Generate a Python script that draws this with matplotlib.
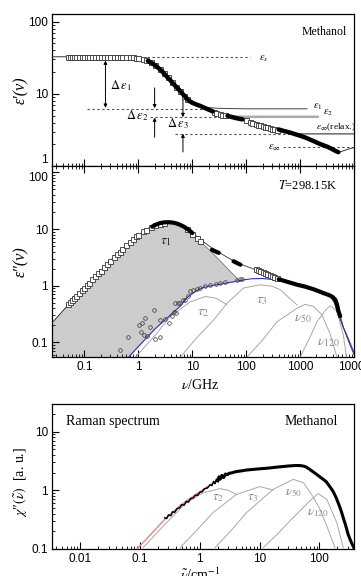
import numpy as np
import matplotlib
matplotlib.use("Agg")
import matplotlib.pyplot as plt
from matplotlib.ticker import FixedLocator, FuncFormatter, LogLocator, NullFormatter

plt.rcParams['font.family'] = ['Liberation Sans', 'DejaVu Sans']
plt.rcParams['mathtext.fontset'] = 'stix'

# ---------------- top panel: eps' ----------------
ep_sq_f = [0.05, 0.055, 0.06, 0.065, 0.07, 0.08, 0.09, 0.1, 0.11, 0.12, 0.14, 0.16, 0.18, 0.2,
           0.23, 0.26, 0.3, 0.35, 0.4, 0.45, 0.5, 0.6, 0.7, 0.8, 0.9, 1.0, 1.2, 1.4, 1.7, 2.0,
           2.5, 3.0, 3.5, 4.2, 5.0, 6.0, 7.0, 8.0,
           25, 28, 32, 36, 40, 100, 115, 130,
           150, 165, 180, 200, 220, 245, 270, 300, 330, 370]
ep_sq_v = [32.7] * 21 + [32.5, 32.3, 32.1, 31.8, 31.4, 30.5, 29.3, 27.5, 25.3,
           22.0, 19.4, 17.0, 14.8, 12.5, 10.8, 9.4, 8.4,
           5.6, 5.45, 5.3, 5.15, 5.05, 4.3, 4.1, 3.95,
           3.85, 3.75, 3.68, 3.6, 3.5, 3.42, 3.35, 3.27, 3.2, 3.12]

ep_blk1_f = [1.5, 1.8, 2.1, 2.5, 2.9, 3.3, 3.8, 4.3, 5.0, 5.8, 6.6, 7.5, 8.5, 10, 12, 14, 16, 18, 21, 24]
ep_blk1_v = [28.6, 26.5, 24.5, 22.0, 19.7, 17.6, 15.8, 14.2, 12.5, 11.2, 10.0, 9.0, 8.1, 7.5, 7.1, 6.8,
             6.5, 6.25, 5.95, 5.7]
ep_blk2_f = [45, 55, 65, 75, 85]
ep_blk2_v = [4.95, 4.75, 4.6, 4.5, 4.42]
ep_blk3_f = [400, 500, 600, 700, 850, 1000, 1200, 1500, 1800, 2200, 2700, 3200, 3800, 4400, 4800, 5100]
ep_blk3_v = [3.2, 3.05, 2.95, 2.85, 2.72, 2.62, 2.5, 2.33, 2.2, 2.05, 1.93, 1.84, 1.73, 1.63, 1.58, 1.55]

ep_fit_f = [0.025, 0.3, 0.6, 1, 1.5, 2, 3, 4.5, 6.5, 9, 14, 25, 50, 100, 200, 400, 800, 1500, 2500,
            3500, 4500, 5200, 6000, 8000, 10000]
ep_fit_v = [32.7, 32.7, 32.5, 31.5, 29, 25.5, 19.5, 14.2, 10.6, 8.3, 6.8, 5.65, 4.85, 4.35, 3.75, 3.2,
            2.75, 2.3, 1.97, 1.78, 1.63, 1.55, 1.6, 1.72, 1.8]

eps_s, eps_1, eps_2, eps_inf_relax, eps_inf = 32.7, 6.2, 4.8, 2.78, 1.84

tau1_ep_f = [12, 16, 22, 30, 50, 100, 300, 1340]
tau1_ep_v = [7.0, 6.6, 6.4, 6.3, 6.25, 6.2, 6.2, 6.2]
tau2_ep_f = [40, 60, 100, 2100]
tau2_ep_v = [5.0, 4.85, 4.8, 4.8]
relax_ep_f = [700, 1000, 10000]
relax_ep_v = [2.85, 2.78, 2.78]

# ---------------- middle panel: eps'' ----------------
epp_sq_f = [0.05, 0.055, 0.06, 0.065, 0.07, 0.08, 0.09, 0.1, 0.11, 0.12, 0.14, 0.16, 0.18, 0.2,
            0.23, 0.26, 0.3, 0.35, 0.4, 0.45, 0.5, 0.6, 0.7, 0.8, 0.9, 1.0, 1.2, 1.4, 1.7, 2.0,
            2.5, 3.0, 8, 10, 12, 14,
            150, 165, 180, 200, 220, 245, 270, 300, 330, 370]
epp_sq_v = [0.48, 0.52, 0.57, 0.61, 0.66, 0.75, 0.84, 0.93, 1.02, 1.11, 1.29, 1.47, 1.65, 1.83,
            2.1, 2.37, 2.72, 3.15, 3.6, 4.0, 4.45, 5.25, 6.0, 6.7, 7.4, 8.0, 9.1, 9.8, 10.7, 11.6,
            12.5, 13.0, 9.9, 8.2, 6.9, 6.1,
            1.95, 1.88, 1.8, 1.72, 1.65, 1.58, 1.53, 1.48, 1.42, 1.37]

epp_blk1_f = [1.8, 2.1, 2.5, 3.0, 3.5, 4.0, 4.5, 5.0, 5.5, 6.0, 7.0, 8.0, 9.0, 10.0]
epp_blk1_v = [11.0, 11.9, 12.7, 13.1, 13.2, 13.1, 12.9, 12.6, 12.2, 11.8, 11.0, 10.1, 9.3, 8.5]
epp_blk2_f = [23, 25, 28, 31]
epp_blk2_v = [4.3, 4.15, 3.95, 3.8]
epp_blk3_f = [58, 63, 68, 73, 78]
epp_blk3_v = [2.7, 2.6, 2.5, 2.42, 2.35]
epp_blk4_f = [400, 450, 500, 600, 700, 850, 1000, 1200, 1500, 1800, 2200, 2700, 3200, 3600, 4000,
              4450, 4800, 5100, 5500]
epp_blk4_v = [1.3, 1.26, 1.22, 1.16, 1.11, 1.05, 1.01, 0.97, 0.91, 0.86, 0.8, 0.74, 0.7, 0.67, 0.63,
              0.57, 0.47, 0.36, 0.29]

circ_f = [0.46, 0.63, 1.01, 1.17, 1.31, 1.12, 1.25, 1.45, 1.67, 1.98, 2.06, 2.55, 2.55, 3.16, 3.64,
          4.2, 4.5, 5.0, 4.8, 5.4, 6.0, 6.6, 7.4, 8.3, 9.2, 10.5, 12.2, 14, 17, 21.5, 27, 33, 40,
          67, 75, 83]
circ_v = [0.074, 0.126, 0.2, 0.22, 0.27, 0.155, 0.135, 0.13, 0.19, 0.376, 0.114, 0.126, 0.25, 0.257,
          0.22, 0.29, 0.35, 0.33, 0.49, 0.5, 0.5, 0.55, 0.57, 0.65, 0.8, 0.85, 0.88, 0.92, 0.97,
          1.02, 1.06, 1.1, 1.14, 1.27, 1.3, 1.32]

epp_fit_f = [0.025, 0.05, 0.1, 0.2, 0.4, 0.8, 1.6, 2.5, 3.5, 5, 7, 10, 14, 20, 30, 45, 65, 100, 160,
             250, 400, 650, 1000, 1600, 2500, 3500, 4200, 4800, 5500, 6500, 8000, 10000]
epp_fit_v = [0.22, 0.46, 0.88, 1.8, 3.7, 6.6, 10.6, 12.6, 13.3, 12.6, 10.8, 8.6, 6.6, 5.1, 3.95,
             3.15, 2.6, 2.2, 1.87, 1.6, 1.32, 1.15, 1.02, 0.88, 0.75, 0.67, 0.62, 0.5, 0.3, 0.17,
             0.1, 0.06]

tau1_f = [0.025, 0.05, 0.1, 0.2, 0.4, 0.8, 1.6, 2.5, 3.5, 5, 7, 10, 14, 20, 30, 45, 65, 90]
tau1_v = [0.22, 0.45, 0.87, 1.75, 3.6, 6.4, 10.3, 12.3, 13.1, 12.3, 10.4, 8.0, 6.0, 4.4, 3.0, 2.0,
          1.4, 1.0]

blue_f = [0.66, 1, 2, 4, 6, 8, 12, 16, 25, 40, 60, 90, 130, 200, 280, 400, 570, 800, 1100, 1500,
          2200, 3000, 3600, 4300, 5100, 6200, 7300, 8500, 10400]
blue_v = [0.055, 0.085, 0.17, 0.31, 0.44, 0.62, 0.82, 0.93, 1.02, 1.1, 1.18, 1.27, 1.33, 1.34, 1.3,
          1.22, 1.15, 1.05, 0.97, 0.9, 0.8, 0.7, 0.65, 0.5, 0.31, 0.19, 0.135, 0.095, 0.06]

c_tau2_f = [0.88, 2.0, 3.9, 9.2, 17.4, 27.8, 44]
c_tau2_v = [0.055, 0.13, 0.286, 0.52, 0.646, 0.60, 0.46]
c_tau3_f = [6, 12, 25, 44, 89, 181, 300, 427, 870]
c_tau3_v = [0.055, 0.12, 0.25, 0.49, 0.91, 1.04, 0.98, 0.85, 0.46]
c_nu50_f = [103, 200, 370, 870, 1230, 1760, 2500, 3500, 4800]
c_nu50_v = [0.055, 0.11, 0.23, 0.40, 0.47, 0.43, 0.31, 0.15, 0.055]
c_nu120_f = [1000, 1500, 2040, 3150, 3700, 4800, 6300, 7200]
c_nu120_v = [0.055, 0.12, 0.23, 0.40, 0.44, 0.35, 0.136, 0.055]

# ---------------- bottom panel: Raman ----------------
ram_lo_f = [0.26, 0.28, 0.3, 0.33, 0.35, 0.38, 0.42, 0.46, 0.5, 0.55, 0.6, 0.65, 0.7, 0.78, 0.85,
            0.92, 1.0, 1.1, 1.2, 1.35, 1.5, 1.6, 1.7, 1.8, 1.9, 2.0]
ram_lo_v = [0.34, 0.33, 0.38, 0.37, 0.43, 0.42, 0.49, 0.5, 0.57, 0.56, 0.65, 0.63, 0.72, 0.74, 0.83,
            0.82, 0.92, 0.95, 1.06, 1.1, 1.25, 1.2, 1.42, 1.3, 1.55, 1.45]
ram_f = [2.0, 2.1, 2.2, 2.35, 2.5, 2.7, 2.9, 3.1, 3.5, 4, 5, 6, 8, 10, 13, 16, 20, 25, 30, 35, 40,
         45, 50, 55, 60, 70, 85, 100, 115, 130, 150, 170, 190, 210, 230, 250, 275, 300, 330, 360, 385]
ram_v = [1.45, 1.7, 1.55, 1.8, 1.65, 1.9, 1.85, 1.95, 2.0, 2.08, 2.15, 2.22, 2.28, 2.33, 2.38, 2.43,
         2.5, 2.55, 2.6, 2.63, 2.65, 2.65, 2.63, 2.58, 2.5, 2.25, 1.95, 1.72, 1.55, 1.4, 1.15, 0.95,
         0.75, 0.58, 0.45, 0.34, 0.25, 0.18, 0.14, 0.115, 0.1]

red_f = [0.09, 0.15, 0.26, 0.5, 1.0, 2.0]
red_v = [0.1, 0.175, 0.32, 0.58, 0.95, 1.5]

r_tau2_f = [0.113, 0.245, 0.6, 1.14, 2.18, 3.0, 4.1]
r_tau2_v = [0.105, 0.245, 0.62, 0.91, 1.07, 1.0, 0.85]
r_tau3_f = [0.47, 0.9, 1.68, 4.1, 10.1, 16.9]
r_tau3_v = [0.105, 0.21, 0.42, 0.85, 1.16, 1.01]
r_nu50_f = [1.8, 3.4, 6.1, 16.9, 36.5, 54, 74, 100, 133, 182]
r_nu50_v = [0.105, 0.21, 0.42, 1.04, 1.54, 1.35, 0.85, 0.5, 0.245, 0.105]
r_nu120_f = [11.5, 20, 32, 69, 95, 133, 195, 250]
r_nu120_v = [0.105, 0.18, 0.3, 0.66, 0.88, 0.7, 0.28, 0.105]

gray_txt = '#8a8a8a'
comp_col = '#a8a8a8'
serif = ['Liberation Serif', 'DejaVu Serif']


def fmt(v, pos):
    return '%g' % v


def style_axes(ax, xt, yt):
    ax.set_xscale('log')
    ax.set_yscale('log')
    ax.xaxis.set_major_locator(FixedLocator(xt))
    ax.yaxis.set_major_locator(FixedLocator(yt))
    ax.xaxis.set_major_formatter(FuncFormatter(fmt))
    ax.yaxis.set_major_formatter(FuncFormatter(fmt))
    ax.xaxis.set_minor_locator(LogLocator(base=10, subs=np.arange(2, 10), numticks=20))
    ax.yaxis.set_minor_locator(LogLocator(base=10, subs=np.arange(2, 10), numticks=20))
    ax.xaxis.set_minor_formatter(NullFormatter())
    ax.yaxis.set_minor_formatter(NullFormatter())
    ax.tick_params(which='both', direction='in', labelsize=8.5, right=False, top=False, pad=3)
    ax.tick_params(which='major', length=5, width=0.8)
    ax.tick_params(which='minor', length=2.5, width=0.6)
    for s in ax.spines.values():
        s.set_linewidth(0.9)


fig = plt.figure(figsize=(3.61, 5.76), dpi=100)
ax1 = fig.add_axes([0.144, 0.712, 0.837, 0.264])
ax2 = fig.add_axes([0.144, 0.380, 0.837, 0.332])
ax3 = fig.add_axes([0.144, 0.047, 0.837, 0.252])

xt_ghz = [0.1, 1, 10, 100, 1000, 10000]

# ---- top ----
style_axes(ax1, xt_ghz, [1, 10, 100])
ax1.set_xlim(0.025, 10000)
ax1.set_ylim(1, 129)
ax1.tick_params(labelbottom=False)

dash = dict(ls=(0, (2.2, 2.2)), lw=0.8, color='#555555')
ax1.plot([1.47, 118], [eps_s, eps_s], **dash)
ax1.plot([0.11, 16], [eps_1, eps_1], **dash)
ax1.plot([1.67, 170], [eps_2, eps_2], **dash)
ax1.plot([4.8, 1000], [eps_inf_relax, eps_inf_relax], **dash)
ax1.plot([485, 10000], [eps_inf, eps_inf], **dash)
ax1.plot(tau2_ep_f, tau2_ep_v, color='#aaaaaa', lw=1.8, zorder=2)
ax1.plot(tau1_ep_f, tau1_ep_v, color='#444444', lw=0.7, zorder=2)
ax1.plot(relax_ep_f, relax_ep_v, color='#333333', lw=0.8, zorder=2)
ax1.plot(ep_fit_f, ep_fit_v, color='#333333', lw=0.7, zorder=3)
ax1.plot(ep_sq_f, ep_sq_v, ls='none', marker='s', ms=3.6, mfc='white', mec='#333333', mew=0.6, zorder=4)
for fx, vx in [(ep_blk1_f, ep_blk1_v), (ep_blk2_f, ep_blk2_v), (ep_blk3_f, ep_blk3_v)]:
    ax1.plot(fx, vx, color='black', lw=3.2, solid_capstyle='round', zorder=5)

arr = dict(arrowstyle='-|>', lw=0.7, color='black', mutation_scale=5, shrinkA=0, shrinkB=0)
ax1.annotate('', xy=(0.245, 29), xytext=(0.245, 19), arrowprops=arr)
ax1.annotate('', xy=(0.245, 6.4), xytext=(0.245, 19), arrowprops=arr)
ax1.annotate('', xy=(2.0, 6.3), xytext=(2.0, 12.1), arrowprops=arr)
ax1.annotate('', xy=(2.0, 4.7), xytext=(2.0, 2.5), arrowprops=arr)
ax1.annotate('', xy=(6.7, 4.75), xytext=(6.7, 8.25), arrowprops=arr)
ax1.annotate('', xy=(6.7, 2.8), xytext=(6.7, 1.56), arrowprops=arr)

ax1.text(0.48, 13.0, r'$\Delta\,\varepsilon_1$', fontsize=9, ha='center', va='center')
ax1.text(0.95, 5.0, r'$\Delta\,\varepsilon_2$', fontsize=9, ha='center', va='center')
ax1.text(5.5, 3.83, r'$\Delta\,\varepsilon_3$', fontsize=9, ha='center', va='center')
ax1.text(170, 31, r'$\varepsilon_s$', fontsize=7.5, ha='left', va='center')
ax1.text(1700, 6.66, r'$\varepsilon_1$', fontsize=7.5, ha='left', va='center')
ax1.text(2700, 5.4, r'$\varepsilon_2$', fontsize=7.5, ha='left', va='center')
ax1.text(1950, 3.4, r'$\varepsilon_\infty$(relax.)', fontsize=6.8, ha='left', va='center',
         family=serif)
ax1.text(250, 1.76, r'$\varepsilon_\infty$', fontsize=7.5, ha='left', va='center')
ax1.text(0.977, 0.88, 'Methanol', transform=ax1.transAxes, ha='right', va='center',
         fontsize=8.5, family=serif)
ax1.set_ylabel('ε′(ν)', fontsize=11.5, family=serif, style='italic')
ax1.yaxis.set_label_coords(-0.075, 0.5)
# lowest label sits just above the panel border, as in the source figure
ax1.get_yticklabels()[0].set_va('bottom')

# ---- middle ----
style_axes(ax2, xt_ghz, [0.1, 1, 10, 100])
ax2.set_xlim(0.025, 10000)
ax2.set_ylim(0.055, 130)
ax2.tick_params(which='both', top=True)
floor = ax2.get_ylim()[0]

ax2.fill_between(tau1_f, floor, tau1_v, color='#cccccc', lw=0, zorder=1)
ax2.plot(tau1_f, tau1_v, color='#777777', lw=0.6, zorder=1.1)
ax2.fill_between(blue_f, floor, blue_v, color='white', lw=0, zorder=1.2)
for fx, vx in [(c_tau2_f, c_tau2_v), (c_tau3_f, c_tau3_v), (c_nu50_f, c_nu50_v), (c_nu120_f, c_nu120_v)]:
    ax2.plot(fx, vx, color=comp_col, lw=0.7, zorder=2)
ax2.plot(blue_f, blue_v, color='#3030d0', lw=0.8, zorder=3)
ax2.plot(epp_fit_f, epp_fit_v, color='#333333', lw=0.6, zorder=3)
ax2.plot(circ_f, circ_v, ls='none', marker='o', ms=2.6, mfc='none', mec='#333333', mew=0.5, zorder=4)
ax2.plot(epp_sq_f, epp_sq_v, ls='none', marker='s', ms=3.6, mfc='white', mec='#333333', mew=0.6, zorder=4)
for fx, vx in [(epp_blk1_f, epp_blk1_v), (epp_blk2_f, epp_blk2_v), (epp_blk3_f, epp_blk3_v),
               (epp_blk4_f, epp_blk4_v)]:
    ax2.plot(fx, vx, color='black', lw=3.0, solid_capstyle='round', zorder=5)

ax2.text(3.16, 6.1, r'$\tau_1$', fontsize=10, ha='center', va='center', color='#222222')
ax2.text(16.2, 0.35, r'$\tau_2$', fontsize=10, ha='center', va='center', color=gray_txt)
ax2.text(195, 0.57, r'$\tau_3$', fontsize=10, ha='center', va='center', color=gray_txt)
ax2.text(1150, 0.27, r'$\nu_{50}$', fontsize=10, ha='center', va='center', color=gray_txt)
ax2.text(3300, 0.1, r'$\nu_{120}$', fontsize=10, ha='center', va='center', color=gray_txt)
ax2.text(0.944, 0.9, r'$T$=298.15K', transform=ax2.transAxes, ha='right', va='center',
         fontsize=9, family=serif)
ax2.set_ylabel('ε″(ν)', fontsize=11.5, family=serif, style='italic')
ax2.yaxis.set_label_coords(-0.075, 0.5)
ax2.get_yticklabels()[-1].set_va('top')
ax2.text(0.49, -0.147, r'$\nu$/GHz', transform=ax2.transAxes, ha='center', va='center',
         fontsize=10, family=serif)

# ---- bottom ----
style_axes(ax3, [0.01, 0.1, 1, 10, 100], [0.1, 1, 10])
ax3.set_xlim(0.0034, 380)
ax3.set_ylim(0.1, 30)

for fx, vx in [(r_tau2_f, r_tau2_v), (r_tau3_f, r_tau3_v), (r_nu50_f, r_nu50_v), (r_nu120_f, r_nu120_v)]:
    ax3.plot(fx, vx, color=comp_col, lw=0.7, zorder=2)
ax3.plot(red_f, red_v, color='#f08080', lw=1.0, zorder=3)
ax3.plot(ram_lo_f, ram_lo_v, color='black', lw=1.1, zorder=4)
ax3.plot(ram_f, ram_v, color='black', lw=2.2, zorder=4)

ax3.text(2.04, 0.75, r'$\tau_2$', fontsize=9.5, ha='center', va='center', color=gray_txt)
ax3.text(7.8, 0.75, r'$\tau_3$', fontsize=9.5, ha='center', va='center', color=gray_txt)
ax3.text(36.5, 0.91, r'$\nu_{50}$', fontsize=9.5, ha='center', va='center', color=gray_txt)
ax3.text(95, 0.42, r'$\nu_{120}$', fontsize=9.5, ha='center', va='center', color=gray_txt)
ax3.text(0.046, 0.88, 'Raman spectrum', transform=ax3.transAxes, ha='left', va='center',
         fontsize=10, family=serif)
ax3.text(0.947, 0.88, 'Methanol', transform=ax3.transAxes, ha='right', va='center',
         fontsize=10, family=serif)
ax3.set_ylabel('$\\chi$″$(\\tilde{\\nu})$  [a. u.]', fontsize=10, family=serif)
ax3.yaxis.set_label_coords(-0.075, 0.46)
ax3.text(0.49, -0.12, r'$\tilde{\nu}$/cm$^{-1}$', transform=ax3.transAxes, ha='center', va='top',
         fontsize=10, family=serif)

fig.savefig('out.png', dpi=100)
